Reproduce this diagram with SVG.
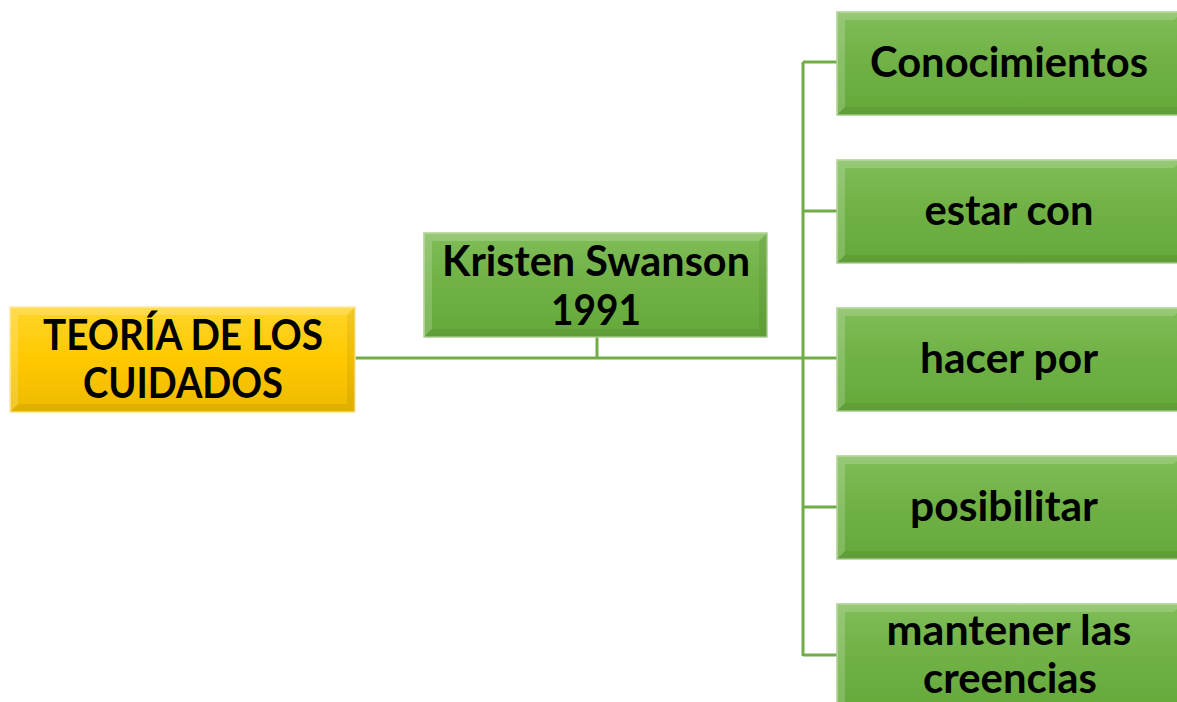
<svg xmlns="http://www.w3.org/2000/svg" width="1177" height="702" viewBox="0 0 1177 702">
<defs>
<linearGradient id="gg" x1="0" y1="0" x2="0" y2="1">
<stop offset="0" stop-color="#80bd58"/>
<stop offset="0.5" stop-color="#6fb145"/>
<stop offset="1" stop-color="#65a83a"/>
</linearGradient>
<linearGradient id="yg" x1="0" y1="0" x2="0" y2="1">
<stop offset="0" stop-color="#ffd52a"/>
<stop offset="0.5" stop-color="#ffc800"/>
<stop offset="1" stop-color="#edba00"/>
</linearGradient>
<style>
.conn{fill:none;stroke:#70ad47;stroke-width:3}
.t{font-family:Lato,"Open Sans",sans-serif;font-weight:bold;font-size:42px;fill:#000;text-anchor:middle}
.gb{fill:url(#gg);stroke:#a9d18e;stroke-width:1.5}
.yb{fill:url(#yg);stroke:#ffe699;stroke-width:1.5}
.bvl{fill:#ffffff;opacity:0.18}
.bvd{fill:#000000;opacity:0.06}
</style>
</defs>
<g id="connectors">
<path class="conn" d="M355 358 H837"/>
<path class="conn" d="M597 337 V358"/>
<path class="conn" d="M803 62 V656"/>
<path class="conn" d="M803 62 H837 M803 211 H837 M803 507 H837 M803 655 H837"/>
</g>
<g id="n-teoria">
<rect class="yb" x="10" y="307" width="345" height="105"/>
<path class="bvl" d="M10 307 H355 L347 315 H18 V404 L10 412 Z"/>
<path class="bvd" d="M355 307 V412 H10 L18 404 H347 V315 Z"/>
<text class="t" x="183" y="350" textLength="280" lengthAdjust="spacingAndGlyphs">TEORÍA DE LOS</text>
<text class="t" x="183" y="398" textLength="200" lengthAdjust="spacingAndGlyphs">CUIDADOS</text>
</g>
<g id="n-kristen">
<rect class="gb" x="424" y="233" width="343" height="104"/>
<path class="bvl" d="M424 233 H767 L759 241 H432 V329 L424 337 Z"/>
<path class="bvd" d="M767 233 V337 H424 L432 329 H759 V241 Z"/>
<text class="t" x="596" y="276" textLength="308" lengthAdjust="spacingAndGlyphs">Kristen Swanson</text>
<text class="t" x="596" y="325" textLength="90" lengthAdjust="spacingAndGlyphs">1991</text>
</g>
<g id="n-conocimientos">
<rect class="gb" x="837" y="12" width="345" height="103"/>
<path class="bvl" d="M837 12 H1182 L1174 20 H845 V107 L837 115 Z"/>
<path class="bvd" d="M837 115 L845 107 H1182 V115 Z"/>
<text class="t" x="1009" y="77" textLength="278" lengthAdjust="spacingAndGlyphs">Conocimientos</text>
</g>
<g id="n-estar">
<rect class="gb" x="837" y="160" width="345" height="103"/>
<path class="bvl" d="M837 160 H1182 L1174 168 H845 V255 L837 263 Z"/>
<path class="bvd" d="M837 263 L845 255 H1182 V263 Z"/>
<text class="t" x="1009" y="225" textLength="169" lengthAdjust="spacingAndGlyphs">estar con</text>
</g>
<g id="n-hacer">
<rect class="gb" x="837" y="308" width="345" height="103"/>
<path class="bvl" d="M837 308 H1182 L1174 316 H845 V403 L837 411 Z"/>
<path class="bvd" d="M837 411 L845 403 H1182 V411 Z"/>
<text class="t" x="1009" y="373" textLength="178" lengthAdjust="spacingAndGlyphs">hacer por</text>
</g>
<g id="n-posibilitar">
<rect class="gb" x="837" y="456" width="345" height="103"/>
<path class="bvl" d="M837 456 H1182 L1174 464 H845 V551 L837 559 Z"/>
<path class="bvd" d="M837 559 L845 551 H1182 V559 Z"/>
<text class="t" x="1004" y="521" textLength="188" lengthAdjust="spacingAndGlyphs">posibilitar</text>
</g>
<g id="n-mantener">
<rect class="gb" x="837" y="604" width="345" height="110"/>
<path class="bvl" d="M837 604 H1182 L1174 612 H845 V714 L837 714 Z"/>
<text class="t" x="1009" y="645" textLength="245" lengthAdjust="spacingAndGlyphs">mantener las</text>
<text class="t" x="1010" y="693" textLength="174" lengthAdjust="spacingAndGlyphs">creencias</text>
</g>
</svg>
